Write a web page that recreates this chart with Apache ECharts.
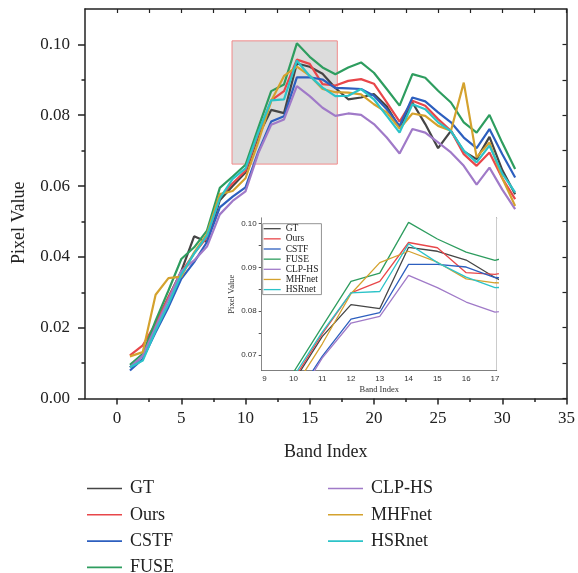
<!DOCTYPE html>
<html><head><meta charset="utf-8">
<script src="https://cdn.jsdelivr.net/npm/echarts@6/dist/echarts.min.js"></script>
<style>html,body{margin:0;padding:0;background:#fff}#c{width:578px;height:573px}</style>
</head><body><div id="c"></div>
<script>
const bands = [1,2,3,4,5,6,7,8,9,10,11,12,13,14,15,16,17,18,19,20,21,22,23,24,25,26,27,28,29,30,31];
const GT     = [0.0088,0.0122,0.0210,0.0285,0.0360,0.0458,0.0442,0.0560,0.0600,0.0638,0.0742,0.0815,0.0806,0.0946,0.0937,0.0917,0.0877,0.0845,0.0850,0.0860,0.0825,0.0765,0.0836,0.0775,0.0707,0.0756,0.0698,0.0676,0.0739,0.0645,0.0577];
const Ours   = [0.0122,0.0150,0.0212,0.0286,0.0356,0.0410,0.0455,0.0570,0.0608,0.0643,0.0748,0.0842,0.0868,0.0957,0.0945,0.0888,0.0884,0.0897,0.0902,0.0889,0.0836,0.0782,0.0841,0.0827,0.0789,0.0756,0.0690,0.0657,0.0695,0.0622,0.0563];
const CSTF   = [0.0079,0.0112,0.0187,0.0258,0.0338,0.0385,0.0442,0.0540,0.0570,0.0596,0.0697,0.0782,0.0797,0.0907,0.0907,0.0901,0.0877,0.0876,0.0874,0.0855,0.0817,0.0770,0.0850,0.0839,0.0808,0.0780,0.0737,0.0707,0.0761,0.0690,0.0624];
const FUSE   = [0.0095,0.0126,0.0220,0.0305,0.0394,0.0427,0.0474,0.0595,0.0627,0.0660,0.0765,0.0868,0.0887,0.1003,0.0965,0.0935,0.0916,0.0935,0.0949,0.0920,0.0874,0.0827,0.0916,0.0906,0.0869,0.0836,0.0780,0.0751,0.0801,0.0722,0.0648];
const CLPHS  = [0.0088,0.0121,0.0202,0.0280,0.0360,0.0390,0.0429,0.0520,0.0558,0.0585,0.0693,0.0773,0.0788,0.0882,0.0854,0.0821,0.0798,0.0805,0.0801,0.0775,0.0737,0.0692,0.0761,0.0751,0.0723,0.0695,0.0657,0.0604,0.0652,0.0590,0.0535];
const MHFnet = [0.0119,0.0131,0.0293,0.0340,0.0344,0.0413,0.0465,0.0577,0.0586,0.0622,0.0725,0.0840,0.0911,0.0937,0.0912,0.0874,0.0865,0.0864,0.0859,0.0831,0.0808,0.0762,0.0805,0.0798,0.0770,0.0756,0.0892,0.0681,0.0723,0.0622,0.0544];
const HSRnet = [0.0088,0.0107,0.0192,0.0267,0.0350,0.0409,0.0460,0.0565,0.0620,0.0650,0.0752,0.0842,0.0845,0.0954,0.0911,0.0878,0.0854,0.0855,0.0874,0.0845,0.0798,0.0751,0.0831,0.0817,0.0780,0.0755,0.0700,0.0667,0.0714,0.0635,0.0582];

const names  = ['GT','Ours','CSTF','FUSE','CLP-HS','MHFnet','HSRnet'];
const values = [GT, Ours, CSTF, FUSE, CLPHS, MHFnet, HSRnet];
const colors = ['#454545','#e8474a','#2d5fbf','#2e9d5f','#a07ac8','#d4a22e','#2cc3c8'];

const xTicks = [0,5,10,15,20,25,30,35];
const xMinorTicks = [2.5,7.5,12.5,17.5,22.5,27.5,32.5];
const yTicks = [0,0.02,0.04,0.06,0.08,0.10];
const yMinorTicks = [0.01,0.03,0.05,0.07,0.09];
const insetXTicks = [9,10,11,12,13,14,15,16,17];
const insetXMinor = [9.5,10.5,11.5,12.5,13.5,14.5,15.5,16.5];
const insetYTicks = [0.07,0.08,0.09,0.10];
const insetYMinor = [0.075,0.085,0.095];
const zoomBox = [[8.95,0.0662],[17.15,0.101]];

const SERIF = '"Liberation Serif","Times New Roman",serif';
const SANS = '"Liberation Sans",Arial,sans-serif';
const AX = '#222';
const IN = '#555';

function pairs(arr){ return bands.map((b,i)=>[b,arr[i]]); }

const chart = echarts.init(document.getElementById('c'), null, {renderer:'canvas'});

const series = [];
series.push({
  type:'line', name:'zoom', xAxisIndex:0, yAxisIndex:0, data:[], z:1, silent:true,
  markArea:{silent:true, itemStyle:{color:'#dcdcdc', borderColor:'#f08a8a', borderWidth:1},
    data:[[{coord:zoomBox[0]},{coord:zoomBox[1]}]]}
});
names.forEach((n,i)=>{
  series.push({type:'line', name:n, xAxisIndex:0, yAxisIndex:0, data:pairs(values[i]),
    symbol:'none', z:3, lineStyle:{width:2.2, color:colors[i]}, itemStyle:{color:colors[i]}});
});
names.forEach((n,i)=>{
  series.push({type:'line', name:n, xAxisIndex:3, yAxisIndex:3, data:pairs(values[i]),
    symbol:'none', z:5, clip:true, lineStyle:{width:1.3, color:colors[i]}, itemStyle:{color:colors[i]}});
});

const legendCommon = {
  orient:'vertical', padding:0, selectedMode:false, icon:'rect', itemWidth:35, itemHeight:1.6, itemGap:8.3,
  height:110, textStyle:{fontSize:18, lineHeight:17, fontFamily:SERIF, color:'#222', padding:[0,0,0,3]}
};

const option = {
  animation:false,
  backgroundColor:'#fff',
  grid:[
    {left:85, right:8, top:9, bottom:174.5},
    {left:261.7, right:81.3, top:218, bottom:202.7, show:true, backgroundColor:'#fff', borderWidth:0, z:4}
  ],
  legend:[
    Object.assign({}, legendCommon, {data:names.slice(0,4), left:87, top:479.5}),
    Object.assign({}, legendCommon, {data:names.slice(4), left:328, top:479.5}),
    {data:names, orient:'vertical', left:262.7, top:223.7, padding:[0,3,0,1], selectedMode:false,
     icon:'rect', itemWidth:17, itemHeight:1.3, itemGap:0.15, borderColor:'#777', borderWidth:0.8, backgroundColor:'#fff', z:8,
     textStyle:{fontSize:9.5, lineHeight:10, fontFamily:SERIF, color:'#222'}}
  ],
  xAxis:[
    {gridIndex:0, type:'value', min:-2.5, max:35, position:'bottom',
     axisLine:{show:true, onZero:false, lineStyle:{color:AX, width:1.5}},
     axisTick:{show:true, customValues:xTicks, length:6, lineStyle:{color:AX, width:1.5}},
     axisLabel:{customValues:xTicks, margin:12, fontSize:17, fontFamily:SERIF, color:'#222'},
     splitLine:{show:false},
     name:'Band Index', nameLocation:'middle', nameGap:45,
     nameTextStyle:{fontSize:18, fontFamily:SERIF, color:'#222'}},
    {gridIndex:0, type:'value', min:-2.5, max:35, position:'bottom',
     axisLine:{show:false, onZero:false},
     axisTick:{show:true, customValues:xMinorTicks, length:3.5, lineStyle:{color:AX, width:1.5}},
     axisLabel:{show:false}, splitLine:{show:false}},
    {gridIndex:0, type:'value', min:-2.5, max:35, position:'top',
     axisLine:{show:true, onZero:false, lineStyle:{color:AX, width:1.5}},
     axisTick:{show:true, inside:true, customValues:xTicks.concat(xMinorTicks), length:4, lineStyle:{color:AX, width:1.2}},
     axisLabel:{show:false}, splitLine:{show:false}},
    {gridIndex:1, type:'value', min:8.9, max:17.06, position:'bottom',
     axisLine:{show:true, onZero:false, lineStyle:{color:IN, width:1}},
     axisTick:{show:true, inside:true, customValues:insetXTicks.concat(insetXMinor), length:3, lineStyle:{color:IN, width:1}},
     axisLabel:{customValues:insetXTicks, margin:4, fontSize:8, fontFamily:SANS, color:'#333'},
     splitLine:{show:false},
     name:'Band Index', nameLocation:'middle', nameGap:15,
     nameTextStyle:{fontSize:8.5, fontFamily:SERIF, color:'#333'}},
    {gridIndex:1, type:'value', min:8.9, max:17.06, position:'top',
     axisLine:{show:true, onZero:false, lineStyle:{color:IN, width:1}},
     axisTick:{show:true, inside:true, customValues:insetXTicks.concat(insetXMinor), length:3, lineStyle:{color:IN, width:1}},
     axisLabel:{show:false}, splitLine:{show:false}}
  ],
  yAxis:[
    {gridIndex:0, type:'value', min:0, max:0.11, position:'left',
     axisLine:{show:true, onZero:false, lineStyle:{color:AX, width:1.5}},
     axisTick:{show:true, customValues:yTicks, length:7, lineStyle:{color:AX, width:1.5}},
     axisLabel:{customValues:yTicks, margin:15, fontSize:17, fontFamily:SERIF, color:'#222',
       formatter:v=>v.toFixed(2)},
     splitLine:{show:false},
     name:'Pixel Value', nameLocation:'middle', nameGap:57,
     nameTextStyle:{fontSize:18, fontFamily:SERIF, color:'#222', padding:[0,38,0,0]}},
    {gridIndex:0, type:'value', min:0, max:0.11, position:'left',
     axisLine:{show:false, onZero:false},
     axisTick:{show:true, customValues:yMinorTicks, length:3.5, lineStyle:{color:AX, width:1.5}},
     axisLabel:{show:false}, splitLine:{show:false}},
    {gridIndex:0, type:'value', min:0, max:0.11, position:'right',
     axisLine:{show:true, onZero:false, lineStyle:{color:AX, width:1.5}},
     axisTick:{show:true, inside:true, customValues:yTicks.concat(yMinorTicks), length:4, lineStyle:{color:AX, width:1.2}},
     axisLabel:{show:false}, splitLine:{show:false}},
    {gridIndex:1, type:'value', min:0.0665, max:0.1013, position:'left',
     axisLine:{show:true, onZero:false, lineStyle:{color:IN, width:1}},
     axisTick:{show:true, customValues:insetYTicks.concat(insetYMinor), length:3, lineStyle:{color:IN, width:1}},
     axisLabel:{customValues:insetYTicks, margin:5, fontSize:8, fontFamily:SANS, color:'#333',
       formatter:v=>v.toFixed(2)},
     splitLine:{show:false},
     name:'Pixel Value', nameLocation:'middle', nameGap:25,
     nameTextStyle:{fontSize:8.5, fontFamily:SERIF, color:'#333'}},
    {gridIndex:1, type:'value', min:0.0665, max:0.1013, position:'right',
     axisLine:{show:true, onZero:false, lineStyle:{color:IN, width:1}},
     axisTick:{show:true, inside:true, customValues:insetYTicks.concat(insetYMinor), length:3, lineStyle:{color:IN, width:1}},
     axisLabel:{show:false}, splitLine:{show:false}}
  ],
  series:series
};
chart.setOption(option);
</script>
</body></html>
